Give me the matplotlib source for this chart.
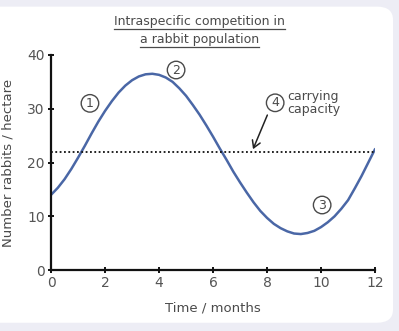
import matplotlib.pyplot as plt
from matplotlib.patches import FancyBboxPatch

# population curve (months, rabbits per hectare)
months = [0, 0.25, 0.5, 0.75, 1, 1.25, 1.5, 1.75, 2, 2.25, 2.5, 2.75, 3,
          3.25, 3.5, 3.75, 4, 4.25, 4.5, 4.75, 5, 5.25, 5.5, 5.75, 6,
          6.25, 6.5, 6.75, 7, 7.25, 7.5, 7.75, 8, 8.25, 8.5, 8.75, 9,
          9.25, 9.5, 9.75, 10, 10.25, 10.5, 10.75, 11, 11.25, 11.5, 11.75, 12]
rabbits = [14.0, 15.3, 16.9, 18.8, 20.9, 23.1, 25.4, 27.6, 29.6, 31.4, 33.0, 34.3, 35.3,
           36.0, 36.4, 36.5, 36.3, 35.8, 35.0, 33.8, 32.4, 30.7, 28.9, 26.9, 24.8,
           22.6, 20.5, 18.3, 16.3, 14.4, 12.6, 11.0, 9.7, 8.6, 7.8, 7.2, 6.8,
           6.7, 6.9, 7.3, 8.0, 8.9, 10.0, 11.4, 13.0, 15.2, 17.5, 20.0, 22.5]
carrying_capacity = 22
xticks = [0, 2, 4, 6, 8, 10, 12]
yticks = [0, 10, 20, 30, 40]

# numbered markers: (label, x, y)
markers = [("1", 1.44, 31.0), ("2", 4.63, 37.2), ("3", 10.04, 12.1), ("4", 8.3, 31.1)]

grey = "#4a4a4a"
blue = "#4a67a6"

fig = plt.figure(figsize=(3.99, 3.31), dpi=100)
fig.patch.set_facecolor("#ededf5")
panel = FancyBboxPatch((-0.05, 0.025), 1.035, 0.955,
                       boxstyle="round,pad=0,rounding_size=0.04",
                       transform=fig.transFigure, fc="white", ec="none",
                       zorder=-10)
fig.patches.append(panel)

ax = fig.add_axes([0.128, 0.184, 0.812, 0.65])
ax.set_facecolor("none")
ax.plot(months, rabbits, color=blue, lw=1.8, solid_capstyle="round")
ax.plot([0, 12], [carrying_capacity] * 2, color="#111111", lw=1.3,
        linestyle=(0, (1, 1.4)))

ax.set_xlim(0, 12)
ax.set_ylim(0, 40)
ax.set_xticks(xticks)
ax.set_yticks(yticks)
ax.tick_params(direction="inout", length=5, width=1.4, colors="#111111",
               labelcolor="#555555", labelsize=10, pad=2)
for s in ["top", "right"]:
    ax.spines[s].set_visible(False)
for s in ["left", "bottom"]:
    ax.spines[s].set_linewidth(1.6)
    ax.spines[s].set_color("#111111")

ax.set_xlabel("Time / months", color=grey, fontsize=9.5, labelpad=8)
ax.set_ylabel("Number rabbits / hectare", color=grey, fontsize=9.5, labelpad=9)

for label, x, y in markers:
    ax.text(x, y, label, ha="center", va="center", fontsize=9, color=grey,
            bbox=dict(boxstyle="circle,pad=0.18", fc="white", ec=grey, lw=1.0))

ax.text(8.75, 31.1, "carrying\ncapacity", ha="left", va="center",
        fontsize=9, color=grey, linespacing=1.0)
ax.annotate("", xy=(7.44, 22.0), xytext=(8.05, 29.3),
            arrowprops=dict(arrowstyle="->,head_length=0.5,head_width=0.3",
                            color="#222222", lw=1.1))

# underlined two-line title
title_lines = ["Intraspecific competition in", "a rabbit population"]
fig.canvas.draw()
renderer = fig.canvas.get_renderer()
for i, line in enumerate(title_lines):
    t = fig.text(0.5, 0.935 - i * 0.055, line, ha="center", va="center",
                 fontsize=9, color=grey)
    bb = t.get_window_extent(renderer).transformed(fig.transFigure.inverted())
    fig.add_artist(plt.Line2D([bb.x0, bb.x1], [bb.y0 - 0.002, bb.y0 - 0.002],
                              transform=fig.transFigure, color=grey, lw=0.9))

fig.savefig("out.png", dpi=100)
